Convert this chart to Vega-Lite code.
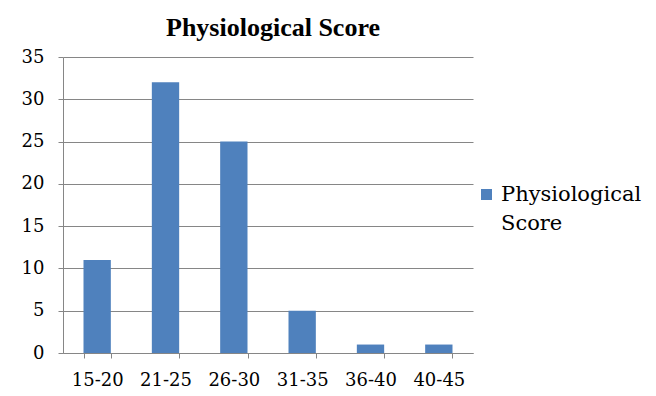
{
  "$schema": "https://vega.github.io/schema/vega-lite/v6.json",
  "width": 410,
  "height": 296,
  "autosize": {"type": "none"},
  "padding": {"left": 63, "top": 57, "right": 183, "bottom": 43},
  "background": "white",
  "title": {
    "text": "Physiological Score",
    "font": "Times New Roman",
    "fontSize": 26,
    "fontWeight": "bold",
    "color": "#000000",
    "anchor": "middle",
    "offset": 7,
    "dx": 5
  },
  "data": {
    "values": [
      {"range": "15-20", "count": 11, "series": "Physiological Score"},
      {"range": "21-25", "count": 32, "series": "Physiological Score"},
      {"range": "26-30", "count": 25, "series": "Physiological Score"},
      {"range": "31-35", "count": 5, "series": "Physiological Score"},
      {"range": "36-40", "count": 1, "series": "Physiological Score"},
      {"range": "40-45", "count": 1, "series": "Physiological Score"}
    ]
  },
  "mark": {"type": "bar"},
  "encoding": {
    "x": {
      "field": "range",
      "type": "ordinal",
      "sort": null,
      "scale": {"paddingInner": 0.6, "paddingOuter": 0.3},
      "axis": {
        "title": null,
        "labelAngle": 0,
        "labelFont": "DejaVu Serif",
        "labelFontSize": 18,
        "labelColor": "#000000",
        "labelPadding": 13,
        "tickBand": "extent",
        "tickSize": 5,
        "tickColor": "#868686",
        "domainColor": "#868686",
        "grid": false
      }
    },
    "y": {
      "field": "count",
      "type": "quantitative",
      "scale": {"domain": [0, 35]},
      "axis": {
        "title": null,
        "values": [0, 5, 10, 15, 20, 25, 30, 35],
        "labelFont": "DejaVu Serif",
        "labelFontSize": 18,
        "labelColor": "#000000",
        "labelPadding": 14,
        "tickSize": 5,
        "tickColor": "#868686",
        "domain": true,
        "domainColor": "#868686",
        "grid": true,
        "gridColor": "#868686"
      }
    },
    "color": {
      "field": "series",
      "type": "nominal",
      "scale": {"range": ["#4F81BD"]},
      "legend": {
        "title": null,
        "orient": "none",
        "legendX": 413,
        "legendY": 127,
        "padding": 0,
        "symbolType": "square",
        "symbolSize": 121,
        "symbolStrokeWidth": 0,
        "labelFont": "DejaVu Serif",
        "labelFontSize": 21,
        "labelColor": "#000000",
        "labelOffset": 4,
        "labelLimit": 300,
        "labelExpr": "split(datum.label, ' ')"
      }
    }
  },
  "config": {
    "view": {"stroke": null},
    "style": {"guide-label": {"lineHeight": 29}}
  }
}
